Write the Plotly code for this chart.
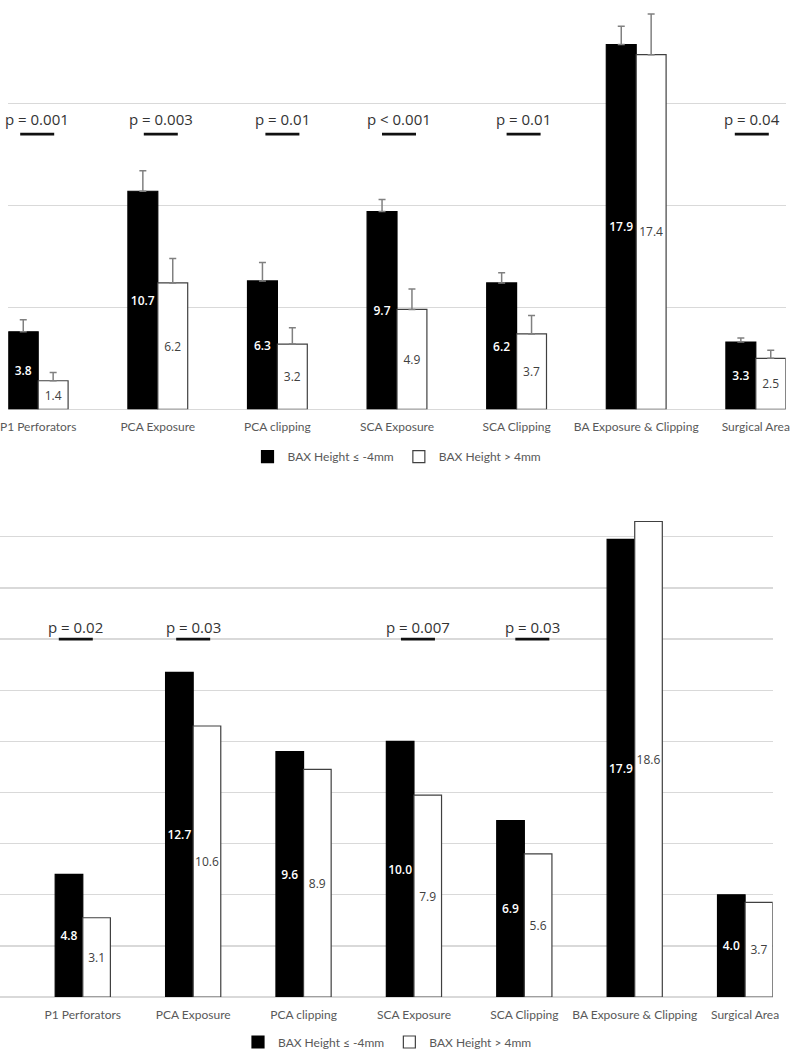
import plotly.graph_objects as go

# ---------------- data ----------------
categories = ["P1 Perforators", "PCA Exposure", "PCA clipping", "SCA Exposure",
              "SCA Clipping", "BA Exposure & Clipping", "Surgical Area"]
series_names = ["BAX Height \u2264 -4mm", "BAX Height > 4mm"]

top_low = [3.8, 10.7, 6.3, 9.7, 6.2, 17.9, 3.3]
top_high = [1.4, 6.2, 3.2, 4.9, 3.7, 17.4, 2.5]
top_low_err = [0.6, 1.0, 0.9, 0.6, 0.5, 0.9, 0.2]
top_high_err = [0.4, 1.2, 0.8, 1.0, 0.9, 2.0, 0.4]
top_p = ["p = 0.001", "p = 0.003", "p = 0.01", "p < 0.001", "p = 0.01", "", "p = 0.04"]

bottom_low = [4.8, 12.7, 9.6, 10.0, 6.9, 17.9, 4.0]
bottom_high = [3.1, 10.6, 8.9, 7.9, 5.6, 18.6, 3.7]
bottom_p = ["p = 0.02", "p = 0.03", "", "p = 0.007", "p = 0.03", "", ""]

# ---------------- styling ----------------
W, H = 790, 1050
GRID = "#d9d9d9"
LABEL_GRAY = "#595959"
CAT_FONT = dict(family="Lato, Open Sans, sans-serif", size=12, color=LABEL_GRAY)
P_FONT = dict(family="Open Sans, sans-serif", size=15, color="#333333")
top_nudge_px = [-1, 3, 5, 2, 7, 0, -4]
bottom_nudge_px = [-7, 0, 0, 4, 8, 0, 0]
TOP_SIG_Y = 13.5
BOTTOM_SIG_Y = 14.0


def make_bar(y, name, dark, xa, ya, legend, err=None):
    fill = "#000000" if dark else "#ffffff"
    line = "#000000" if dark else "#404040"
    txt = dict(family="Open Sans, sans-serif", size=12,
               color="#ffffff" if dark else "#404040",
               weight=600 if dark else 400)
    kw = {}
    if err is not None:
        kw["error_y"] = dict(type="data", array=err, arrayminus=[0] * len(err),
                             symmetric=False, color="#808080", thickness=1.5, width=3.5)
    return go.Bar(x=categories, y=y, name=name,
                  marker=dict(color=fill, line=dict(color=line, width=1.2)),
                  texttemplate="%{y:.1f}", textposition="inside",
                  insidetextanchor="middle", textangle=0, constraintext="none",
                  insidetextfont=txt, xaxis=xa, yaxis=ya, legend=legend,
                  hoverinfo="skip", **kw)


fig = go.Figure()
fig.add_trace(make_bar(top_low, series_names[0], True, "x", "y", "legend", top_low_err))
fig.add_trace(make_bar(top_high, series_names[1], False, "x", "y", "legend", top_high_err))
fig.add_trace(make_bar(bottom_low, series_names[0], True, "x2", "y2", "legend2"))
fig.add_trace(make_bar(bottom_high, series_names[1], False, "x2", "y2", "legend2"))

shapes, annotations = [], []
for (plist, nudges, sig_y, xr, yr, yshift) in [
        (top_p, top_nudge_px, TOP_SIG_Y, "x", "y", 15),
        (bottom_p, bottom_nudge_px, BOTTOM_SIG_Y, "x2", "y2", 12)]:
    for cat, p, dx in zip(categories, plist, nudges):
        if not p:
            continue
        shapes.append(dict(type="rect", xref=xr, yref=yr,
                           xsizemode="pixel", xanchor=cat, x0=-17 + dx, x1=17 + dx,
                           ysizemode="pixel", yanchor=sig_y, y0=-1.4, y1=1.4,
                           fillcolor="#111111", line=dict(width=0)))
        annotations.append(dict(text=p, x=cat, y=sig_y, xref=xr, yref=yr,
                                xshift=dx, yshift=yshift, showarrow=False,
                                xanchor="center", yanchor="middle", font=P_FONT))

xcommon = dict(type="category", showgrid=False, zeroline=False, showline=False,
               ticks="", tickfont=CAT_FONT, automargin=False, fixedrange=True,
               ticklabelstandoff=9)
ycommon = dict(range=[0, 20], showgrid=True, gridcolor=GRID, gridwidth=1.3,
               zeroline=True, zerolinecolor=GRID, zerolinewidth=1.5,
               showticklabels=False, ticks="", showline=False, automargin=False,
               fixedrange=True)

legend_common = dict(orientation="h", xanchor="center", yanchor="middle",
                     font=CAT_FONT, bgcolor="rgba(0,0,0,0)")

fig.update_layout(
    width=W, height=H,
    margin=dict(l=0, r=0, t=0, b=0, autoexpand=False),
    paper_bgcolor="white", plot_bgcolor="white",
    barmode="group", bargap=0.5, bargroupgap=0,
    xaxis=dict(xcommon, domain=[8.3 / W, 785.7 / W], range=[-0.25, 6.25], anchor="y"),
    yaxis=dict(ycommon, domain=[1 - 409.3 / H, 1 - 1.7 / H], dtick=5, anchor="x"),
    xaxis2=dict(xcommon, domain=[0, 772.7 / W], range=[-0.75, 6.25], anchor="y2"),
    yaxis2=dict(ycommon, domain=[1 - 997 / H, 1 - 485.7 / H], dtick=2, anchor="x2"),
    legend=dict(legend_common, x=397 / W, y=1 - 456.7 / H),
    legend2=dict(legend_common, x=387.5 / W, y=1 - 1042 / H),
    shapes=shapes, annotations=annotations,
    showlegend=True,
)

page_fix = """
var de=document.documentElement, b=document.body;
[de,b].forEach(function(e){e.style.margin='0';e.style.padding='0';e.style.overflow='hidden';});
b.style.height='1050px';
var g=document.getElementsByClassName('plotly-graph-div')[0];
g.style.display='block';
if(g.parentElement){g.parentElement.style.height='1050px';g.parentElement.style.overflow='hidden';g.parentElement.style.lineHeight='0';}
"""

fig.write_html("out.html", config={"displayModeBar": False, "staticPlot": True},
               post_script=page_fix)
